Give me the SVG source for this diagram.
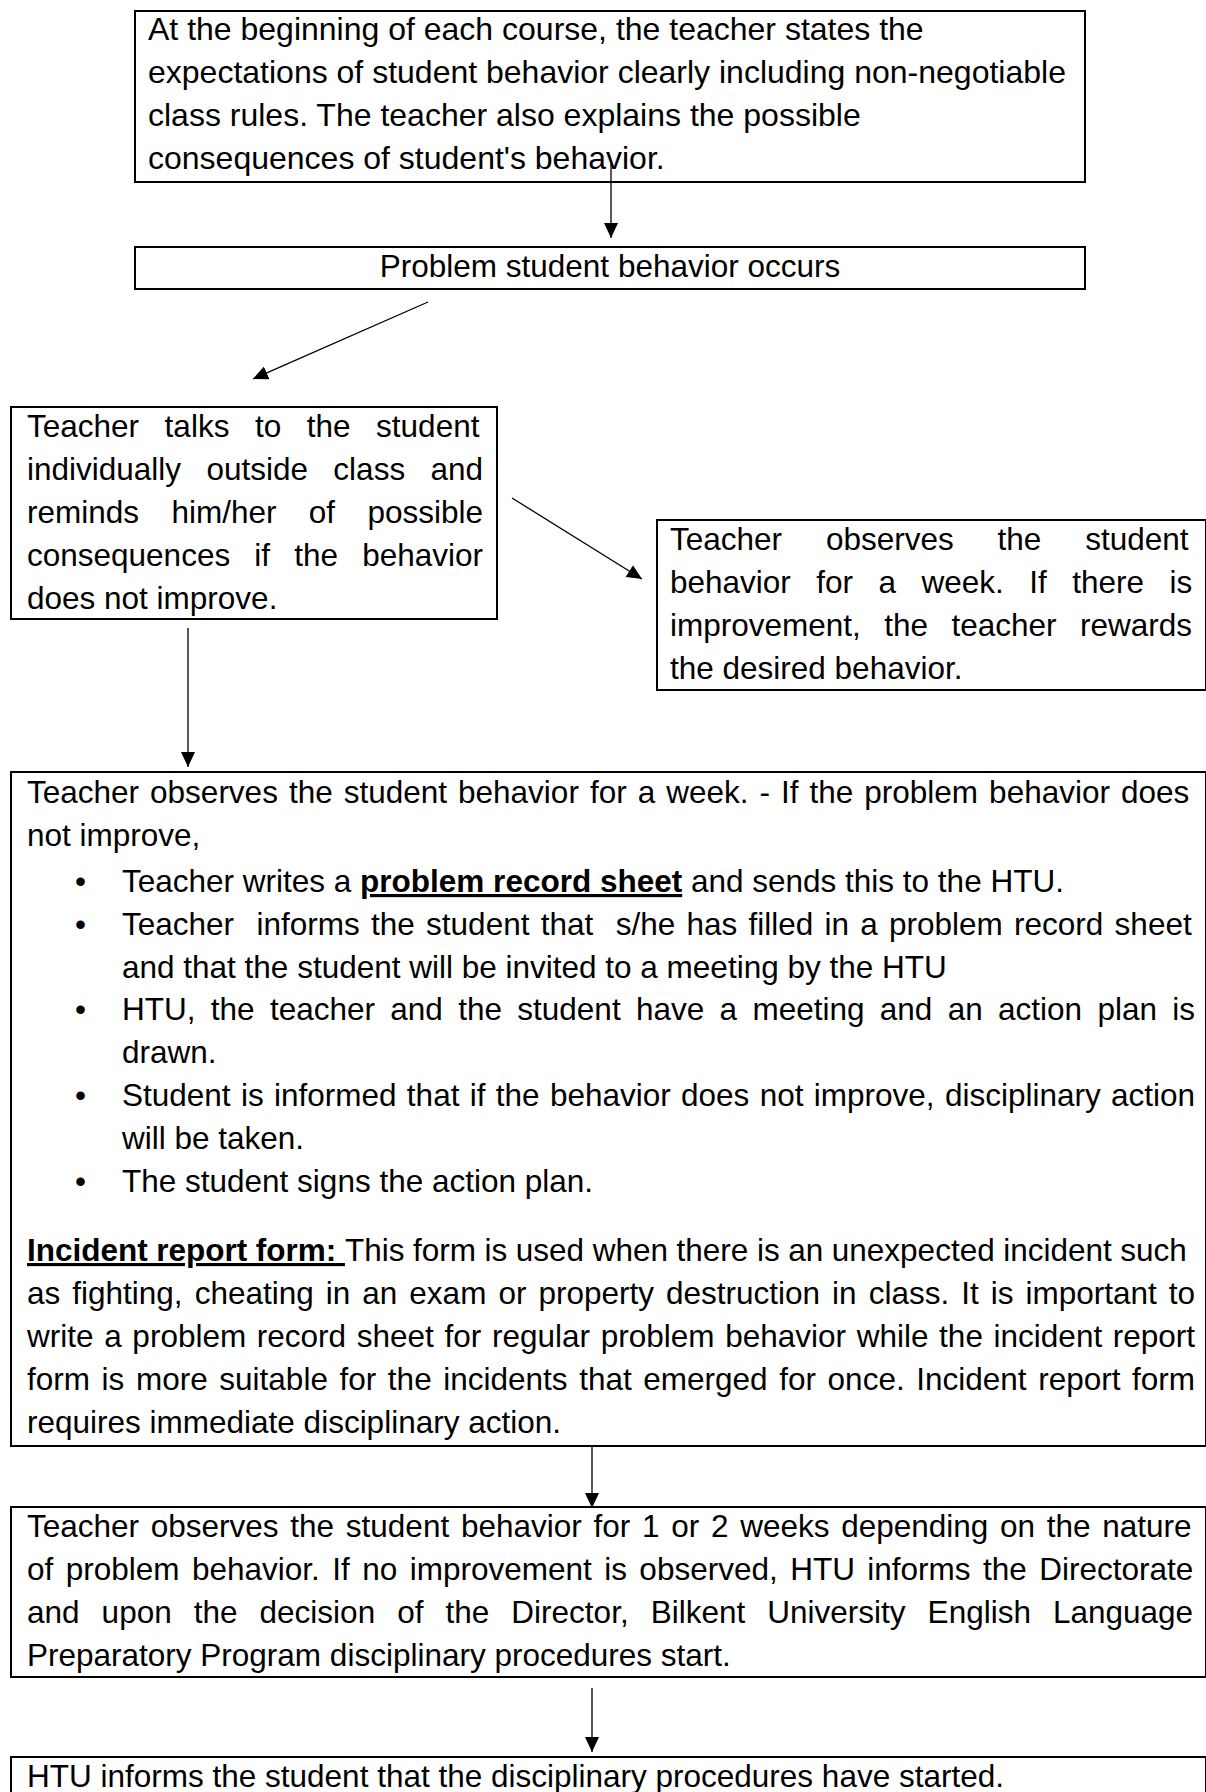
<svg xmlns="http://www.w3.org/2000/svg" width="1206" height="1792" viewBox="0 0 1206 1792">
<defs>
<marker id="ah" markerUnits="userSpaceOnUse" markerWidth="16" markerHeight="14" refX="15" refY="7" orient="auto"><path d="M0,0 L15,7 L0,14 z" fill="#000"/></marker>
</defs>
<style>
.box{fill:#fff;stroke:#000;stroke-width:2}
text{font-family:"Liberation Sans",Arial,sans-serif;font-size:31.5px;fill:#000}
.big{font-size:32px}
.b{font-weight:bold;text-decoration:underline}
.c{stroke:#000;stroke-width:1.3;fill:none;marker-end:url(#ah)}
</style>
<rect width="1206" height="1792" fill="#fff"/>
<g id="n1">
<rect class="box" x="135" y="11" width="950" height="171"/>
<text class="big" x="148" y="40">At the beginning of each course, the teacher states the</text>
<text class="big" x="148" y="83">expectations of student behavior clearly including non-negotiable</text>
<text class="big" x="148" y="126">class rules. The teacher also explains the possible</text>
<text class="big" x="148" y="169">consequences of student's behavior.</text>
</g>
<g id="n2">
<rect class="box" x="135" y="247" width="950" height="42"/>
<text x="610" y="277" text-anchor="middle">Problem student behavior occurs</text>
</g>
<g id="n3">
<rect class="box" x="11" y="407" width="486" height="212"/>
<text x="27" y="437" word-spacing="16.8">Teacher talks to the student</text>
<text x="27" y="480" word-spacing="16.6">individually outside class and</text>
<text x="27" y="523" word-spacing="23.6">reminds him/her of possible</text>
<text x="27" y="566" word-spacing="15.4">consequences if the behavior</text>
<text x="27" y="609">does not improve.</text>
</g>
<g id="n4">
<rect class="box" x="657" y="520" width="549" height="170"/>
<text x="670" y="550" word-spacing="35.1">Teacher observes the student</text>
<text x="670" y="593" word-spacing="16.7">behavior for a week. If there is</text>
<text x="670" y="636" word-spacing="14.7">improvement, the teacher rewards</text>
<text x="670" y="679">the desired behavior.</text>
</g>
<g id="n5">
<rect class="box" x="11" y="772" width="1195" height="674"/>
<text x="27" y="803" word-spacing="2.26">Teacher observes the student behavior for a week. - If the problem behavior does</text>
<text x="27" y="846">not improve,</text>
<text x="75" y="892">•</text>
<text x="122" y="892">Teacher writes a <tspan class="b">problem record sheet</tspan> and sends this to the HTU.</text>
<text x="75" y="935">•</text>
<text x="122" y="935" word-spacing="2.49" xml:space="preserve">Teacher  informs the student that  s/he has filled in a problem record sheet</text>
<text x="122" y="978">and that the student will be invited to a meeting by the HTU</text>
<text x="75" y="1020">•</text>
<text x="122" y="1020" word-spacing="6.57">HTU, the teacher and the student have a meeting and an action plan is</text>
<text x="122" y="1063">drawn.</text>
<text x="75" y="1106">•</text>
<text x="122" y="1106" word-spacing="1.57">Student is informed that if the behavior does not improve, disciplinary action</text>
<text x="122" y="1149">will be taken.</text>
<text x="75" y="1192">•</text>
<text x="122" y="1192">The student signs the action plan.</text>
<text x="27" y="1261" word-spacing="-0.2"><tspan class="b">Incident report form: </tspan>This form is used when there is an unexpected incident such</text>
<text x="27" y="1304" word-spacing="3.27">as fighting, cheating in an exam or property destruction in class. It is important to</text>
<text x="27" y="1347" word-spacing="1.92">write a problem record sheet for regular problem behavior while the incident report</text>
<text x="27" y="1390" word-spacing="2.85">form is more suitable for the incidents that emerged for once. Incident report form</text>
<text x="27" y="1433">requires immediate disciplinary action.</text>
</g>
<g id="n6">
<rect class="box" x="11" y="1507" width="1195" height="170"/>
<text x="27" y="1537" word-spacing="2.97">Teacher observes the student behavior for 1 or 2 weeks depending on the nature</text>
<text x="27" y="1580" word-spacing="3.69">of problem behavior. If no improvement is observed, HTU informs the Directorate</text>
<text x="27" y="1623" word-spacing="13.3">and upon the decision of the Director, Bilkent University English Language</text>
<text x="27" y="1666">Preparatory Program disciplinary procedures start.</text>
</g>
<g id="n7">
<rect class="box" x="11" y="1757" width="1195" height="60"/>
<text x="27" y="1787">HTU informs the student that the disciplinary procedures have started.</text>
</g>
<g id="connectors">
<line class="c" x1="611" y1="163" x2="611" y2="238"/>
<line class="c" x1="428" y1="302" x2="253" y2="379"/>
<line class="c" x1="512" y1="498" x2="642" y2="579"/>
<line class="c" x1="188" y1="628" x2="188" y2="767"/>
<line class="c" x1="592" y1="1446" x2="592" y2="1508"/>
<line class="c" x1="592" y1="1688" x2="592" y2="1752"/>
</g>
</svg>
